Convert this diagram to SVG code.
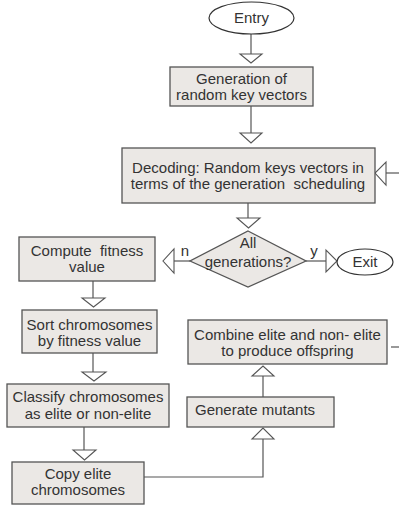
<svg xmlns="http://www.w3.org/2000/svg" width="399" height="507" viewBox="0 0 399 507">
<style>
.box{fill:#ebe8e5;stroke:#555;stroke-width:1.3}
.term{fill:#fff;stroke:#333;stroke-width:1.2}
.t{font-family:"Liberation Sans",Arial,sans-serif;font-size:15px;fill:#333;text-anchor:middle}
.ln{fill:none;stroke:#555;stroke-width:1.2}
.ah{fill:#fff;stroke:#555;stroke-width:1.1}
</style>
<rect width="399" height="507" fill="#fff"/>
<g id="connectors">
<line class="ln" x1="251" y1="34" x2="251" y2="54"/>
<polygon class="ah" points="240,54 262,54 251,63"/>
<line class="ln" x1="251" y1="106" x2="251" y2="133"/>
<polygon class="ah" points="240,133 262,133 251,143"/>
<line class="ln" x1="248" y1="203" x2="248" y2="218"/>
<polygon class="ah" points="237,218 260,218 248.5,228"/>
<line class="ln" x1="386" y1="173" x2="399" y2="173"/>
<polygon class="ah" points="386,162 386,185 375,173"/>
<line class="ln" x1="306" y1="261" x2="326" y2="261"/>
<polygon class="ah" points="326,250 326,272 337,261"/>
<line class="ln" x1="174" y1="261" x2="190" y2="261"/>
<polygon class="ah" points="174,249 174,273 163,261"/>
<line class="ln" x1="93" y1="281" x2="93" y2="298"/>
<polygon class="ah" points="82,298 105,298 93.5,307"/>
<line class="ln" x1="93" y1="353" x2="93" y2="372"/>
<polygon class="ah" points="82,372 106,372 94,381"/>
<line class="ln" x1="84" y1="427" x2="84" y2="450"/>
<polygon class="ah" points="73,450 96,450 84.5,460"/>
<polyline class="ln" points="144,477 263,477 263,439"/>
<polygon class="ah" points="252,439 274,439 263,428"/>
<line class="ln" x1="263" y1="397" x2="263" y2="376"/>
<polygon class="ah" points="252,376 274,376 263,366"/>
<line class="ln" x1="391" y1="347" x2="399" y2="347"/>
</g>
<g id="entry">
<ellipse class="term" cx="251.5" cy="18" rx="42.5" ry="16"/>
<text class="t" x="251.5" y="23">Entry</text>
</g>
<g id="gen-random">
<rect class="box" x="170" y="67" width="143" height="39"/>
<text class="t" x="241.5" y="84">Generation of</text>
<text class="t" x="241.5" y="100">random key vectors</text>
</g>
<g id="decoding">
<rect class="box" x="122" y="148" width="253" height="55"/>
<text class="t" x="248" y="173">Decoding: Random keys vectors in</text>
<text class="t" x="248" y="189" xml:space="preserve">terms of the generation  scheduling</text>
</g>
<g id="all-generations">
<polygon class="box" points="248,231 306,261 248,287 190,261"/>
<text class="t" x="248" y="248">All</text>
<text class="t" x="248" y="267">generations?</text>
</g>
<g id="labels">
<text class="t" x="185" y="256">n</text>
<text class="t" x="314" y="256">y</text>
</g>
<g id="exit">
<ellipse class="term" cx="365" cy="262" rx="28" ry="13"/>
<text class="t" x="365" y="267">Exit</text>
</g>
<g id="compute-fitness">
<rect class="box" x="19" y="237" width="136" height="44"/>
<text class="t" x="87" y="256" xml:space="preserve">Compute  fitness</text>
<text class="t" x="87" y="272">value</text>
</g>
<g id="sort">
<rect class="box" x="22" y="310" width="135" height="43"/>
<text class="t" x="89.5" y="330">Sort chromosomes</text>
<text class="t" x="89.5" y="346">by fitness value</text>
</g>
<g id="classify">
<rect class="box" x="7" y="384" width="162" height="43"/>
<text class="t" x="88" y="402">Classify chromosomes</text>
<text class="t" x="88" y="419">as elite or non-elite</text>
</g>
<g id="copy-elite">
<rect class="box" x="12" y="462" width="132" height="42"/>
<text class="t" x="78" y="479">Copy elite</text>
<text class="t" x="78" y="495">chromosomes</text>
</g>
<g id="mutants">
<rect class="box" x="187" y="397" width="147" height="30"/>
<text class="t" x="195" y="415" style="text-anchor:start">Generate mutants</text>
</g>
<g id="combine">
<rect class="box" x="188" y="320" width="199" height="44"/>
<text class="t" x="287.5" y="340">Combine elite and non- elite</text>
<text class="t" x="287.5" y="356">to produce offspring</text>
</g>
</svg>
